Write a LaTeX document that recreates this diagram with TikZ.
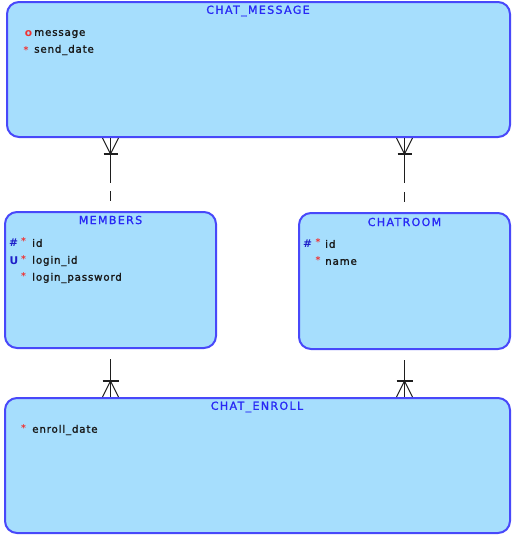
\documentclass[tikz,border=0pt]{standalone}
\usepackage{fontspec}
\usetikzlibrary{calc}
\newfontfamily\ttlfont[LetterSpace=12,FakeBold=1.2]{DejaVu Sans}
\newfontfamily\attfont[LetterSpace=8,FakeBold=1.6]{DejaVu Sans}
\newfontfamily\mkfont{DejaVu Sans}
\definecolor{boxfill}{RGB}{166,222,253}
\definecolor{boxline}{RGB}{72,72,250}
\definecolor{ttlblue}{RGB}{40,40,245}
\definecolor{keyblue}{RGB}{30,30,200}
\definecolor{mandred}{RGB}{240,50,50}
\definecolor{relline}{RGB}{30,30,30}
\tikzset{
  entity/.style={draw=boxline, fill=boxfill, line width=1.5pt, rounded corners=9pt, inner sep=0pt},
  ttl/.style={inner sep=0pt, text=ttlblue, font=\ttlfont\fontsize{8.3pt}{9pt}\selectfont},
  att/.style={inner sep=0pt, anchor=west, text=black!90, font=\attfont\fontsize{7.7pt}{9pt}\selectfont},
  mk/.style={inner sep=0pt, text=mandred, font=\mkfont\fontsize{7pt}{9pt}\selectfont\bfseries},
  kmk/.style={inner sep=0pt, text=keyblue, font=\mkfont\fontsize{8pt}{9pt}\selectfont\bfseries},
  rel/.style={draw=relline, line width=0.8pt},
}
\begin{document}
\begin{tikzpicture}[x=0.75pt,y=-0.75pt]
\useasboundingbox (0,0) rectangle (518,536);
% entities
\node[entity, minimum width=503*0.75pt, minimum height=135*0.75pt] (cm) at (258.5,69.5) {};
\node[entity, minimum width=211*0.75pt, minimum height=136*0.75pt] (mem) at (110.5,280) {};
\node[entity, minimum width=211*0.75pt, minimum height=136*0.75pt] (cr) at (404.5,281) {};
\node[entity, minimum width=505*0.75pt, minimum height=135*0.75pt] (ce) at (257.5,465.5) {};
% titles
\node[ttl] (cmt) at (258,11) {CHAT\_MESSAGE};
\node[ttl] (memt) at (110.5,220) {MEMBERS};
\node[ttl] (crt) at (404.5,222) {CHATROOM};
\node[ttl] (cet) at (257,407) {CHAT\_ENROLL};
% CHAT_MESSAGE attributes
\node[mk, font=\mkfont\fontsize{8pt}{9pt}\selectfont\bfseries] (cmo) at (28.5,34) {o};
\node[att] (cma1) at (34,34) {message};
\node[mk] (cms) at (26,50) {*};
\node[att] (cma2) at (34,50) {send\_date};
% MEMBERS attributes
\node[kmk] (memh) at (13.5,243) {\#};
\node[mk] (mems1) at (23.5,241.5) {*};
\node[att] (mema1) at (32,243) {id};
\node[kmk] (memu) at (14,261) {U};
\node[mk] (mems2) at (23.5,259.5) {*};
\node[att] (mema2) at (32,261) {login\_id};
\node[mk] (mems3) at (23.5,276.5) {*};
\node[att] (mema3) at (32,278) {login\_password};
% CHATROOM attributes
\node[kmk] (crh) at (307.5,244) {\#};
\node[mk] (crs1) at (318,242.5) {*};
\node[att] (cra1) at (325,244) {id};
\node[mk] (crs2) at (318,260.5) {*};
\node[att] (cra2) at (325,262) {name};
% CHAT_ENROLL attributes
\node[mk] (ces) at (23.5,428.5) {*};
\node[att] (cea1) at (32,430) {enroll\_date};
% relationships: CHAT_MESSAGE -- MEMBERS
\coordinate (a1) at (cm.south -| mem.north);
\coordinate (b1) at (mem.north);
\draw[rel] (a1) -- ($(a1)+(0,45)$);
\draw[rel] ($(b1)+(0,-20)$) -- ($(b1)+(0,-10)$);
\draw[rel] ($(a1)+(-8,0)$) -- ($(a1)+(0,16)$) -- ($(a1)+(8,0)$);
\draw[rel] ($(a1)+(-7,16)$) -- ($(a1)+(7,16)$);
% CHAT_MESSAGE -- CHATROOM
\coordinate (a2) at (cm.south -| cr.north);
\coordinate (b2) at (cr.north);
\draw[rel] (a2) -- ($(a2)+(0,45)$);
\draw[rel] ($(b2)+(0,-20)$) -- ($(b2)+(0,-10)$);
\draw[rel] ($(a2)+(-8,0)$) -- ($(a2)+(0,16)$) -- ($(a2)+(8,0)$);
\draw[rel] ($(a2)+(-7,16)$) -- ($(a2)+(7,16)$);
% MEMBERS -- CHAT_ENROLL
\coordinate (a3) at (mem.south);
\coordinate (b3) at (ce.north -| mem.south);
\draw[rel] ($(a3)+(0,10)$) -- ($(a3)+(0,22)$);
\draw[rel] ($(b3)+(0,-26)$) -- (b3);
\draw[rel] ($(b3)+(-8,0)$) -- ($(b3)+(0,-16)$) -- ($(b3)+(8,0)$);
\draw[rel] ($(b3)+(-8,-16)$) -- ($(b3)+(8,-16)$);
% CHATROOM -- CHAT_ENROLL
\coordinate (a4) at (cr.south);
\coordinate (b4) at (ce.north -| cr.south);
\draw[rel] ($(a4)+(0,10)$) -- ($(a4)+(0,22)$);
\draw[rel] ($(b4)+(0,-26)$) -- (b4);
\draw[rel] ($(b4)+(-8,0)$) -- ($(b4)+(0,-16)$) -- ($(b4)+(8,0)$);
\draw[rel] ($(b4)+(-8,-16)$) -- ($(b4)+(8,-16)$);
\end{tikzpicture}
\end{document}
